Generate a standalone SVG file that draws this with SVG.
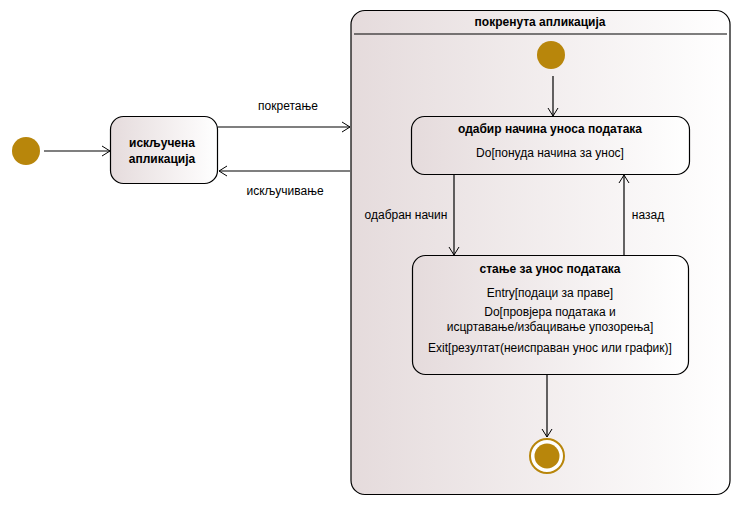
<svg xmlns="http://www.w3.org/2000/svg" width="741" height="506" viewBox="0 0 741 506">
<defs>
<linearGradient id="g" x1="0" y1="0" x2="1" y2="0">
<stop offset="0" stop-color="#e5dbdc"/>
<stop offset="1" stop-color="#ffffff"/>
</linearGradient>
<marker id="a" markerWidth="12" markerHeight="12" viewBox="-10 -6 12 12" refX="0" refY="0" orient="auto" markerUnits="userSpaceOnUse">
<path d="M-8,-5 L0,0 L-8,5" fill="none" stroke="#000" stroke-width="1"/>
</marker>
</defs>
<style>
.st{fill:url(#g);stroke:#000;stroke-width:1.2}
.t{font-family:"Liberation Sans",Arial,sans-serif;font-size:12px;fill:#000;text-anchor:middle}
.b{font-weight:bold}
.c{stroke:#000;stroke-width:1.2;fill:none;marker-end:url(#a)}
.ini{fill:#b8860b}
</style>
<rect width="741" height="506" fill="#fff"/>
<g id="composite">
<rect class="st" x="351" y="10.5" width="379" height="484" rx="14"/>
<line x1="354" y1="34" x2="727" y2="34" stroke="#000" stroke-width="1.2"/>
<text class="t b" x="540" y="26">покренута апликација</text>
</g>
<g id="init1"><circle class="ini" cx="26" cy="151" r="14"/></g>
<g id="off">
<rect class="st" x="110.5" y="116.5" width="107" height="67" rx="13"/>
<text class="t b" x="162" y="147">искључена</text>
<text class="t b" x="162" y="163">апликација</text>
</g>
<g id="init2"><circle class="ini" cx="551" cy="55" r="14"/></g>
<g id="choose">
<rect class="st" x="411.5" y="116.5" width="278" height="58" rx="13"/>
<text class="t b" x="550" y="133">одабир начина уноса података</text>
<text class="t" x="550" y="157">Do[понуда начина за унос]</text>
</g>
<g id="input">
<rect class="st" x="412.5" y="255.5" width="276" height="119" rx="13"/>
<text class="t b" x="550" y="273">стање за унос података</text>
<text class="t" x="550" y="297">Entry[подаци за праве]</text>
<text class="t" x="550" y="316">Do[провјера података и</text>
<text class="t" x="550" y="331">исцртавање/избацивање упозорења]</text>
<text class="t" x="550" y="352">Exit[резултат(неисправан унос или график)]</text>
</g>
<g id="final">
<circle cx="547" cy="456" r="17" fill="#fff" stroke="#b8860b" stroke-width="2"/>
<circle class="ini" cx="547" cy="456" r="12.5"/>
</g>
<g id="connectors">
<line class="c" x1="44" y1="151" x2="110" y2="151"/>
<line class="c" x1="218" y1="127" x2="350" y2="127"/>
<line class="c" x1="350" y1="171" x2="219" y2="171"/>
<line class="c" x1="553" y1="76" x2="553" y2="116"/>
<line class="c" x1="454" y1="175" x2="454" y2="255"/>
<line class="c" x1="624" y1="255" x2="624" y2="175"/>
<line class="c" x1="547" y1="375" x2="547" y2="437"/>
<text class="t" x="288" y="110">покретање</text>
<text class="t" x="285" y="195">искључивање</text>
<text class="t" x="406" y="219">одабран начин</text>
<text class="t" x="648" y="219">назад</text>
</g>
</svg>
